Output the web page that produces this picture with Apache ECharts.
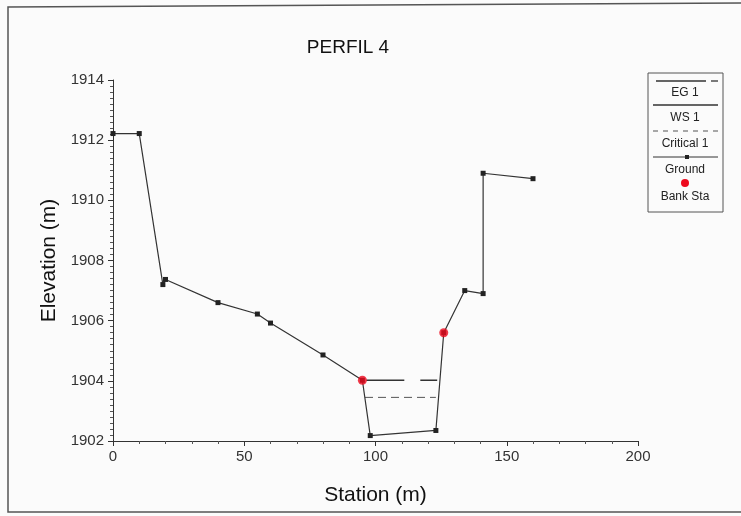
<!DOCTYPE html>
<html><head><meta charset="utf-8">
<script src="https://cdn.jsdelivr.net/npm/echarts@6/dist/echarts.min.js"></script>
<style>html,body{margin:0;padding:0;background:#fbfbfb}#c{width:741px;height:516px}</style>
</head><body><div id="c"></div>
<script>
// Ground profile
const groundStation = [0, 10, 19, 20, 40, 55, 60, 80, 95, 98, 123, 126, 134, 141, 141, 160];
const groundElev = [1912.22, 1912.22, 1907.2, 1907.37, 1906.6, 1906.22, 1905.92, 1904.86, 1904.02, 1902.18, 1902.35, 1905.6, 1907.0, 1906.9, 1910.9, 1910.72];
// Bank stations
const bankStation = [95, 126];
const bankElev = [1904.02, 1905.6];
// Energy grade line
const egStation = [96.5, 123.5];
const egElev = [1904.02, 1904.02];
// Critical depth line
const critStation = [96, 123];
const critElev = [1903.45, 1903.45];
// Water surface (coincides with EG, not visible)
const wsStation = [];
const wsElev = [];
const legendLabels = ['EG 1', 'WS 1', 'Critical 1', 'Ground', 'Bank Sta'];

const zip = (a, b) => a.map((v, i) => [v, b[i]]);
const chart = echarts.init(document.getElementById('c'));
const F = 'Liberation Sans, Arial, sans-serif';

const lx = 648, ly = 73;
const legendGraphics = [
  {type:'rect', shape:{x:lx, y:ly, width:75, height:139}, style:{fill:'#fbfbfb', stroke:'#555', lineWidth:1}},
  {type:'line', shape:{x1:lx+8, y1:ly+8, x2:lx+58, y2:ly+8}, style:{stroke:'#333', lineWidth:1.3}},
  {type:'line', shape:{x1:lx+63, y1:ly+8, x2:lx+70, y2:ly+8}, style:{stroke:'#333', lineWidth:1.3}},
  {type:'text', style:{x:lx+37, y:ly+20, text:legendLabels[0], font:'12px '+F, fill:'#222', align:'center', verticalAlign:'middle'}},
  {type:'line', shape:{x1:lx+5, y1:ly+32, x2:lx+70, y2:ly+32}, style:{stroke:'#333', lineWidth:1.3}},
  {type:'text', style:{x:lx+37, y:ly+45, text:legendLabels[1], font:'12px '+F, fill:'#222', align:'center', verticalAlign:'middle'}},
  {type:'line', shape:{x1:lx+5, y1:ly+58, x2:lx+70, y2:ly+58}, style:{stroke:'#555', lineWidth:1, lineDash:[5,5]}},
  {type:'text', style:{x:lx+37, y:ly+71, text:legendLabels[2], font:'12px '+F, fill:'#222', align:'center', verticalAlign:'middle'}},
  {type:'line', shape:{x1:lx+5, y1:ly+84, x2:lx+70, y2:ly+84}, style:{stroke:'#333', lineWidth:1}},
  {type:'rect', shape:{x:lx+37, y:ly+82, width:4, height:4}, style:{fill:'#222'}},
  {type:'text', style:{x:lx+37, y:ly+97, text:legendLabels[3], font:'12px '+F, fill:'#222', align:'center', verticalAlign:'middle'}},
  {type:'circle', shape:{cx:lx+37, cy:ly+110, r:4}, style:{fill:'#ee0a1e'}},
  {type:'text', style:{x:lx+37, y:ly+124, text:legendLabels[4], font:'12px '+F, fill:'#222', align:'center', verticalAlign:'middle'}}
];

chart.setOption({
  backgroundColor: '#fbfbfb',
  animation: false,
  title: {text: 'PERFIL 4', left: 343, top: 33, textAlign: 'center',
    textStyle: {fontFamily: F, fontSize: 19, fontWeight: 'normal', color: '#111'}},
  grid: {left: 113, right: 103, top: 80, bottom: 75},
  xAxis: {
    type: 'value', min: 0, max: 200, interval: 50,
    name: 'Station (m)', nameLocation: 'middle', nameGap: 44,
    nameTextStyle: {fontFamily: F, fontSize: 21, color: '#111'},
    axisLine: {lineStyle: {color: '#333', width: 1}},
    axisTick: {show: true, length: 5, lineStyle: {color: '#333'}},
    minorTick: {show: true, splitNumber: 5, length: 3, lineStyle: {color: '#555'}},
    axisLabel: {fontFamily: F, fontSize: 15, color: '#333', margin: 8},
    splitLine: {show: false}
  },
  yAxis: {
    type: 'value', min: 1902, max: 1914, interval: 2,
    name: 'Elevation (m)', nameLocation: 'middle', nameGap: 51,
    nameTextStyle: {fontFamily: F, fontSize: 21, color: '#111'},
    axisLine: {show: true, lineStyle: {color: '#333', width: 1}},
    axisTick: {show: true, length: 5, lineStyle: {color: '#333'}},
    minorTick: {show: true, splitNumber: 10, length: 3, lineStyle: {color: '#555'}},
    axisLabel: {fontFamily: F, fontSize: 15, color: '#333', margin: 9, formatter: v => String(v)},
    splitLine: {show: false}
  },
  series: [
    {name: 'EG 1', type: 'line', data: zip(egStation, egElev), symbol: 'none',
      lineStyle: {color: '#333', width: 1.3, type: [38, 16]}, z: 3},
    {name: 'WS 1', type: 'line', data: zip(wsStation, wsElev), symbol: 'none',
      lineStyle: {color: '#333', width: 1.3}},
    {name: 'Critical 1', type: 'line', data: zip(critStation, critElev), symbol: 'none',
      lineStyle: {color: '#555', width: 1, type: [8, 5]}},
    {name: 'Ground', type: 'line', data: zip(groundStation, groundElev), symbol: 'rect', symbolSize: 5,
      itemStyle: {color: '#222'}, lineStyle: {color: '#333', width: 1.2}, z: 4},
    {name: 'Bank Sta', type: 'scatter', data: zip(bankStation, bankElev), symbol: 'circle', symbolSize: 9,
      itemStyle: {color: '#ee0a1e'}, z: 5}
  ],
  graphic: [
    {type: 'polyline', shape: {points: [[741, 3], [8, 7], [8, 512], [741, 512]]},
      style: {stroke: '#555', lineWidth: 1.5, fill: null}},
    ...legendGraphics
  ]
});
</script></body></html>
